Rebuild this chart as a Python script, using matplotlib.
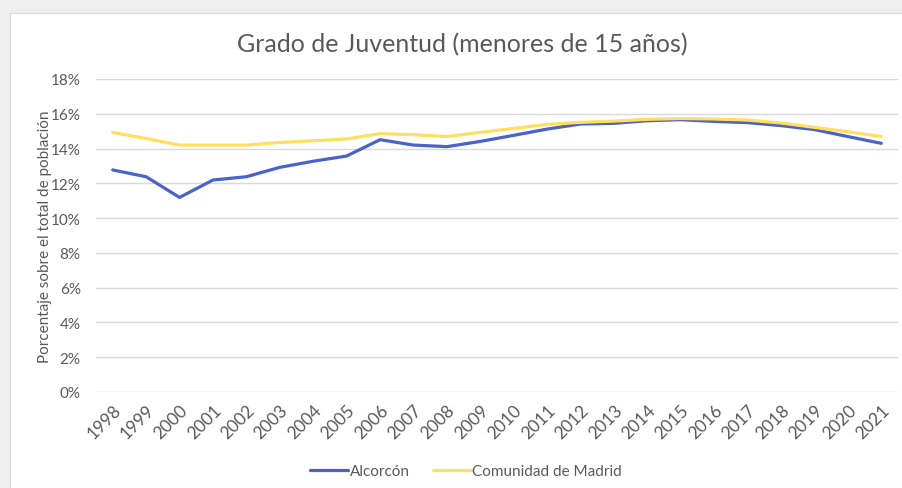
import numpy as np
import matplotlib
matplotlib.use("Agg")
import matplotlib.pyplot as plt
from matplotlib.patches import Rectangle
from matplotlib.ticker import FuncFormatter

# datos (porcentaje de menores de 15 años)
years = [str(y) for y in range(1998, 2022)]
alcorcon = [12.77, 12.38, 11.19, 12.19, 12.38, 12.92, 13.27, 13.57, 14.51, 14.20,
            14.11, 14.41, 14.76, 15.12, 15.41, 15.45, 15.60, 15.66, 15.56, 15.49,
            15.32, 15.09, 14.69, 14.30]
madrid = [14.93, 14.58, 14.20, 14.20, 14.20, 14.35, 14.45, 14.55, 14.86, 14.80,
          14.69, 14.93, 15.16, 15.39, 15.51, 15.58, 15.68, 15.73, 15.70, 15.64,
          15.47, 15.22, 14.97, 14.69]

plt.rcParams["font.family"] = ["Lato", "DejaVu Sans"]
txt_col = "#595959"

fig = plt.figure(figsize=(9.02, 4.89), dpi=100, facecolor="#efefef")
fig.patches.append(Rectangle((10 / 902, 0), 1, 1 - 14 / 489, transform=fig.transFigure,
                             facecolor="white", edgecolor="#d9d9d9", lw=0.8, zorder=-5))

ax = fig.add_axes([96 / 902, 1 - 393 / 489, (898 - 96) / 902, (393 - 80) / 489])
ax.set_zorder(2)
ax.set_facecolor("none")
x = np.arange(len(years))
ax.plot(x, np.array(alcorcon) / 100, color="#4a62c9", lw=2.3, label="Alcorcón",
        solid_capstyle="round")
ax.plot(x, np.array(madrid) / 100, color="#ffdf60", lw=2.3, label="Comunidad de Madrid",
        solid_capstyle="round")

ax.set_xlim(-0.5, len(years) - 0.5)
ax.set_ylim(0, 0.18)
ax.set_yticks(np.arange(0, 0.181, 0.02))
ax.yaxis.set_major_formatter(FuncFormatter(lambda v, p: f"{v * 100:.0f}%"))
ax.set_xticks(x)
ax.set_xticklabels(years, rotation=45, ha="right", rotation_mode="anchor")
ax.grid(axis="y", color="#d9d9d9", lw=1)
ax.set_axisbelow(True)
for s in ax.spines.values():
    s.set_visible(False)
ax.tick_params(length=0, colors=txt_col)
ax.tick_params(axis="y", pad=11, labelsize=11)
ax.tick_params(axis="x", pad=7, labelsize=12.5)

ax.set_ylabel("Porcentaje sobre el total de población", color=txt_col, fontsize=11)
ax.yaxis.set_label_coords(-0.055, 0.5)
fig.text(462 / 902, 1 - 45 / 489, "Grado de Juventud (menores de 15 años)", ha="center",
         va="center", fontsize=18, color=txt_col)

fig.legend(loc="center", bbox_to_anchor=(466 / 902, 1 - 472 / 489), ncol=2, frameon=False,
           fontsize=11, labelcolor=txt_col, handlelength=2.5, handletextpad=0.1,
           columnspacing=1.5)

fig.savefig("out.png", dpi=100, facecolor=fig.get_facecolor())
